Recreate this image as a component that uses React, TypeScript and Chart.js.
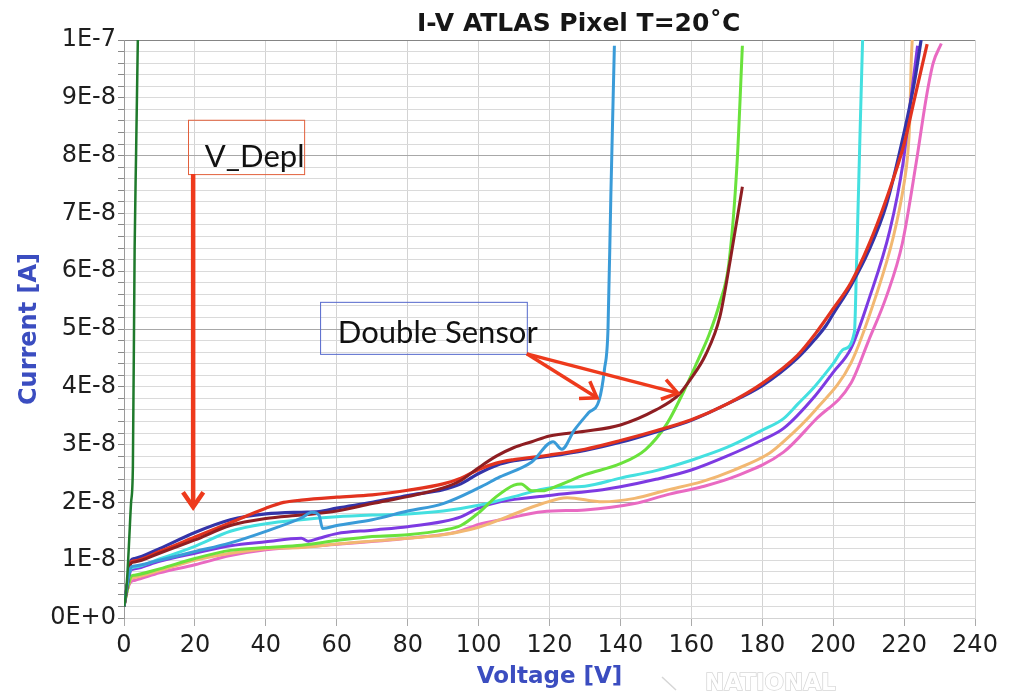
import { useEffect, useRef } from "react";
import { Chart, registerables } from "chart.js";

Chart.register(...registerables);

// Axis tick labels
const voltageTickLabels = ["0", "20", "40", "60", "80", "100", "120", "140", "160", "180", "200", "220", "240"];
const currentTickLabels = ["0E+0", "1E-8", "2E-8", "3E-8", "4E-8", "5E-8", "6E-8", "7E-8", "8E-8", "9E-8", "1E-7"];

// I-V sweeps: bias voltage [V] and leakage current [nA]
const vShort = [0, 0.5, 1.0, 1.5, 2.0, 2.5, 3.0, 3.4, 3.9];
const iShort = [2, 4, 8, 14, 20, 26, 64, 80, 100];

const vDoubleA = [0, 1, 2, 3, 10, 20, 30, 40, 50, 53, 55, 56, 60, 70, 80, 90, 100, 106, 115, 121, 123.5, 127, 131, 134, 135.5, 136.5, 137.3, 138.3];
const iDoubleA = [2, 6, 8.8, 9.0, 10, 11.5, 13, 15, 17.3, 18.3, 17.8, 15.5, 16, 17, 18.5, 19.8, 22.5, 24.4, 27, 30.5, 29.2, 32.5, 35.5, 37.7, 43, 50, 73, 99];

const vDoubleB = [0, 1, 2, 3, 10, 20, 30, 40, 50, 60, 70, 80, 90, 95, 100, 105, 110, 115, 120, 130, 140, 150, 156.4, 160, 164, 168, 171, 174.4];
const iDoubleB = [2, 6, 9.5, 9.7, 11.2, 13.5, 16, 17.2, 17.8, 18.5, 19.8, 21, 22.5, 23.8, 26, 28, 29.5, 30.5, 31.5, 32.3, 33.4, 36, 38.6, 41.5, 45.5, 52, 62, 74.6];

const vRed = [0, 1, 2, 3, 10, 20, 30, 40, 45, 50, 60, 70, 80, 90, 95, 100, 105, 110, 120, 130, 140, 150, 160, 170, 180, 190, 195, 200, 205, 210, 215, 220, 223, 226.5];
const iRed = [2, 6, 9.7, 9.9, 11.5, 14, 16.5, 19, 20, 20.4, 20.9, 21.3, 22.1, 23.2, 24.2, 25.7, 26.8, 27.4, 28.2, 29.2, 30.7, 32.4, 34.3, 37, 40.6, 45.5, 49.2, 53.5, 58, 64.5, 72.5, 82, 90, 99.3];

const vNavy = [0, 1, 2, 3, 10, 20, 30, 40, 50, 55, 60, 70, 80, 90, 95, 100, 105, 110, 120, 130, 140, 150, 160, 170, 180, 190, 195, 198, 200, 205, 210, 215, 220, 223, 224.8];
const iNavy = [2, 6, 10, 10.3, 12, 14.8, 17, 18, 18.3, 18.4, 19, 20, 21.2, 22.2, 23.2, 25, 26.4, 27.2, 28, 29, 30.4, 32.2, 34.2, 37, 40.2, 45, 48.3, 50.6, 52.6, 57.5, 63.5, 71.5, 84, 93, 100];

const vLime = [0, 1, 2, 3, 10, 20, 30, 40, 50, 60, 70, 80, 90, 95, 100, 105, 110, 112, 115, 118, 122, 130, 140, 147, 153, 158, 162, 165, 168, 170.6, 172.9, 174.4];
const iLime = [2, 5, 7.2, 7.4, 8.5, 10.3, 11.7, 12.2, 12.6, 13.4, 14.1, 14.4, 15.2, 16, 18.2, 21, 23, 23.2, 22, 22, 22.8, 24.8, 26.7, 29.1, 33.5, 39.4, 44.8, 49, 54.5, 61.4, 78.7, 99];

const vCyan = [0, 1, 2, 3, 10, 20, 30, 40, 50, 60, 70, 80, 90, 100, 110, 120, 130, 140, 150, 160, 170, 180, 186, 190, 195, 200, 203, 206, 206.6, 207.6, 208.3];
const iCyan = [2, 6, 8.6, 8.8, 10.2, 12.4, 15, 16.3, 17, 17.5, 17.8, 18, 18.5, 19.5, 21, 22.5, 22.8, 24.2, 25.5, 27.3, 29.5, 32.5, 34.5, 37, 40.2, 44, 46.5, 49.5, 61.4, 84.4, 100];

const vViolet = [0, 1, 2, 3, 10, 20, 30, 40, 50, 52, 55, 60, 70, 80, 90, 95, 100, 106, 120, 135, 140, 150, 160, 170, 180, 186, 195, 200, 205, 210, 216, 219.7, 222, 223.8];
const iViolet = [2, 6, 8.3, 8.5, 9.8, 11.2, 12.5, 13.2, 13.8, 13.3, 13.8, 14.6, 15.2, 15.8, 16.7, 17.5, 19, 20.1, 21.2, 22.2, 22.7, 24, 25.6, 28, 30.8, 32.8, 38.5, 42.5, 46.6, 55, 67.1, 78.7, 90.2, 99];

const vOrange = [0, 1, 2, 3, 10, 20, 30, 40, 50, 60, 70, 80, 90, 100, 108, 118, 125, 135, 144, 153, 163, 172, 182, 186, 195, 205, 212, 217, 220, 221, 221.6, 222, 222.3];
const iOrange = [2, 5, 6.8, 7.0, 8.2, 10, 11.2, 12, 12.2, 12.8, 13.3, 13.8, 14.4, 15.7, 17.5, 19.8, 20.8, 20.1, 20.7, 22.1, 23.6, 25.6, 28.5, 30.5, 36, 44.1, 55.6, 66, 75.2, 80, 86, 96, 100];

const vPink = [0, 1, 2, 3, 10, 20, 30, 40, 57, 80, 94, 100, 108, 118, 130, 144, 153, 163, 172, 186, 195, 205, 210, 215, 219.5, 223.4, 226.3, 228.2, 230.5];
const iPink = [2, 5, 6.3, 6.5, 7.8, 9.2, 10.8, 11.8, 12.6, 13.8, 14.9, 16.2, 17.2, 18.4, 18.7, 19.8, 21.3, 22.7, 24.4, 28.7, 34.3, 40.6, 48, 55.6, 64.8, 78.7, 90.2, 96, 99.4];

// First entry is painted on top
const series = [
  { label: "Sensor 1", color: "#1f7a2c", width: 2.5, v: vShort, i: iShort },
  { label: "Sensor 2", color: "#3a9bd8", width: 3, v: vDoubleA, i: iDoubleA },
  { label: "Sensor 3", color: "#8e1e22", width: 3, v: vDoubleB, i: iDoubleB },
  { label: "Sensor 4", color: "#e2331f", width: 3.2, v: vRed, i: iRed },
  { label: "Sensor 5", color: "#3434a8", width: 3.2, v: vNavy, i: iNavy },
  { label: "Sensor 6", color: "#6ae23c", width: 3, v: vLime, i: iLime },
  { label: "Sensor 7", color: "#44e0e0", width: 3, v: vCyan, i: iCyan },
  { label: "Sensor 8", color: "#7d3ae2", width: 3, v: vViolet, i: iViolet },
  { label: "Sensor 9", color: "#f2b872", width: 3, v: vOrange, i: iOrange },
  { label: "Sensor 10", color: "#e96ac2", width: 3, v: vPink, i: iPink },
];

const AXIS_FONT = "'DejaVu Sans', 'Liberation Sans', sans-serif";
const NOTE_FONT = "Lato, 'Open Sans', sans-serif";
const ARROW_RED = "#ee3a1c";

function chevron(ctx: CanvasRenderingContext2D, tx: number, ty: number, dir: number, len: number, spread: number) {
  ctx.beginPath();
  ctx.moveTo(tx + len * Math.cos(dir + Math.PI - spread), ty + len * Math.sin(dir + Math.PI - spread));
  ctx.lineTo(tx, ty);
  ctx.lineTo(tx + len * Math.cos(dir + Math.PI + spread), ty + len * Math.sin(dir + Math.PI + spread));
  ctx.stroke();
}

function arrow(ctx: CanvasRenderingContext2D, x0: number, y0: number, x1: number, y1: number, width: number) {
  ctx.lineWidth = width;
  ctx.beginPath();
  ctx.moveTo(x0, y0);
  ctx.lineTo(x1, y1);
  ctx.stroke();
  chevron(ctx, x1, y1, Math.atan2(y1 - y0, x1 - x0), 18, 0.6);
}

const overlay = {
  id: "overlay",
  afterDatasetsDraw(chart: any) {
    const { ctx } = chart;
    const sx = chart.scales.x;
    const sy = chart.scales.y;
    const px = (v: number) => sx.getPixelForValue(v);
    const py = (i: number) => sy.getPixelForValue(i);

    ctx.save();
    ctx.lineCap = "butt";
    ctx.lineJoin = "miter";

    // depletion voltage call-out
    ctx.strokeStyle = "#e2603c";
    ctx.lineWidth = 1;
    ctx.strokeRect(px(18.05) + 0.5, py(86.2) + 0.5, px(50.8) - px(18.05), py(76.8) - py(86.2));
    ctx.fillStyle = "#111";
    ctx.font = `31px ${NOTE_FONT}`;
    ctx.textAlign = "left";
    ctx.textBaseline = "middle";
    ctx.fillText("V_Depl", px(22.8), py(79.8));
    ctx.strokeStyle = ARROW_RED;
    arrow(ctx, px(19.5), py(76.8), px(19.5), py(19.2), 4.5);

    // double sensor call-out
    ctx.strokeStyle = "#5468cc";
    ctx.lineWidth = 1;
    ctx.strokeRect(px(55.3) + 0.5, py(54.7) + 0.5, px(113.6) - px(55.3), py(45.7) - py(54.7));
    ctx.fillStyle = "#111";
    ctx.fillText("Double Sensor", px(60.3), py(49.3));
    ctx.strokeStyle = ARROW_RED;
    arrow(ctx, px(113.6), py(45.7), px(133.4), py(38.1), 3.5);
    arrow(ctx, px(113.6), py(45.7), px(156.2), py(38.9), 3.5);
    ctx.restore();
  },
  afterDraw(chart: any) {
    const { ctx, chartArea } = chart;
    ctx.save();
    ctx.fillStyle = "#161616";
    ctx.font = `bold 25px ${AXIS_FONT}`;
    ctx.textAlign = "left";
    ctx.textBaseline = "alphabetic";
    ctx.fillText("I-V ATLAS Pixel T=20\u02DAC", 417, 31);

    ctx.fillStyle = "#3b4dc0";
    ctx.font = `bold 23px ${AXIS_FONT}`;
    ctx.textAlign = "center";
    ctx.textBaseline = "middle";
    ctx.fillText("Voltage [V]", (chartArea.left + chartArea.right) / 2, 677);
    ctx.font = `bold 24px ${AXIS_FONT}`;
    ctx.translate(30, (chartArea.top + chartArea.bottom) / 2);
    ctx.rotate(-Math.PI / 2);
    ctx.fillText("Current [A]", 0, 0);
    ctx.restore();

    // faint vendor watermark
    ctx.save();
    ctx.font = `bold 23px ${AXIS_FONT}`;
    ctx.textAlign = "left";
    ctx.textBaseline = "alphabetic";
    ctx.lineWidth = 1.5;
    ctx.strokeStyle = "#d6d6d6";
    ctx.fillStyle = "#ffffff";
    ctx.strokeText("NATIONAL", 705, 690);
    ctx.fillText("NATIONAL", 705, 690);
    ctx.beginPath();
    ctx.moveTo(662, 677);
    ctx.lineTo(676, 690);
    ctx.stroke();
    ctx.restore();
  },
};

export default function App() {
  const ref = useRef<HTMLCanvasElement>(null);

  useEffect(() => {
    const canvas = ref.current;
    if (!canvas) return;
    const chart = new Chart(canvas, {
      type: "line",
      data: {
        datasets: series.map((s) => ({
          label: s.label,
          data: s.v.map((v, k) => ({ x: v, y: s.i[k] })),
          borderColor: s.color,
          backgroundColor: s.color,
          borderWidth: s.width,
          borderJoinStyle: "round" as const,
          pointRadius: 0,
          fill: false,
          cubicInterpolationMode: "monotone" as const,
        })),
      },
      options: {
        animation: false,
        responsive: false,
        devicePixelRatio: 1,
        layout: { padding: { top: 40, right: 38, left: 0, bottom: 0 } },
        plugins: {
          legend: { display: false },
          tooltip: { enabled: false },
          title: { display: false },
        },
        scales: {
          x: {
            type: "linear",
            min: 0,
            max: 240,
            ticks: {
              stepSize: 20,
              autoSkip: false,
              maxRotation: 0,
              padding: 5,
              color: "#1e1e1e",
              font: { family: AXIS_FONT, size: 24 },
              callback: (val: any) => voltageTickLabels[Math.round(Number(val) / 20)] ?? "",
            },
            grid: { color: "#d3d3d3", tickColor: "#aaaaaa", tickLength: 8 },
            border: { color: "#d3d3d3" },
            afterFit: (s: any) => {
              s.height = 75;
            },
          },
          y: {
            type: "linear",
            min: 0,
            max: 100,
            ticks: {
              stepSize: 2,
              autoSkip: false,
              padding: 2,
              color: "#1e1e1e",
              font: { family: AXIS_FONT, size: 24 },
              callback: (val: any) => {
                const n = Math.round(Number(val));
                return n % 10 === 0 ? currentTickLabels[n / 10] : "";
              },
            },
            grid: {
              color: (c: any) => {
                const n = Math.round(c.tick ? c.tick.value : -1);
                if (n === 100) return "#858585";
                if (n === 20 || n === 50 || n === 80) return "#a8a8a8";
                return "#dadada";
              },
              tickColor: "#8a8a8a",
              tickLength: 6,
            },
            border: { color: "#9a9a9a" },
            afterFit: (s: any) => {
              s.width = 124;
            },
          },
        },
      },
      plugins: [overlay],
    });
    return () => chart.destroy();
  }, []);

  return (
    <div style={{ position: "absolute", left: 0, top: 0, width: 1013, height: 693, background: "#ffffff" }}>
      <canvas ref={ref} width={1013} height={693} style={{ display: "block" }} />
    </div>
  );
}
